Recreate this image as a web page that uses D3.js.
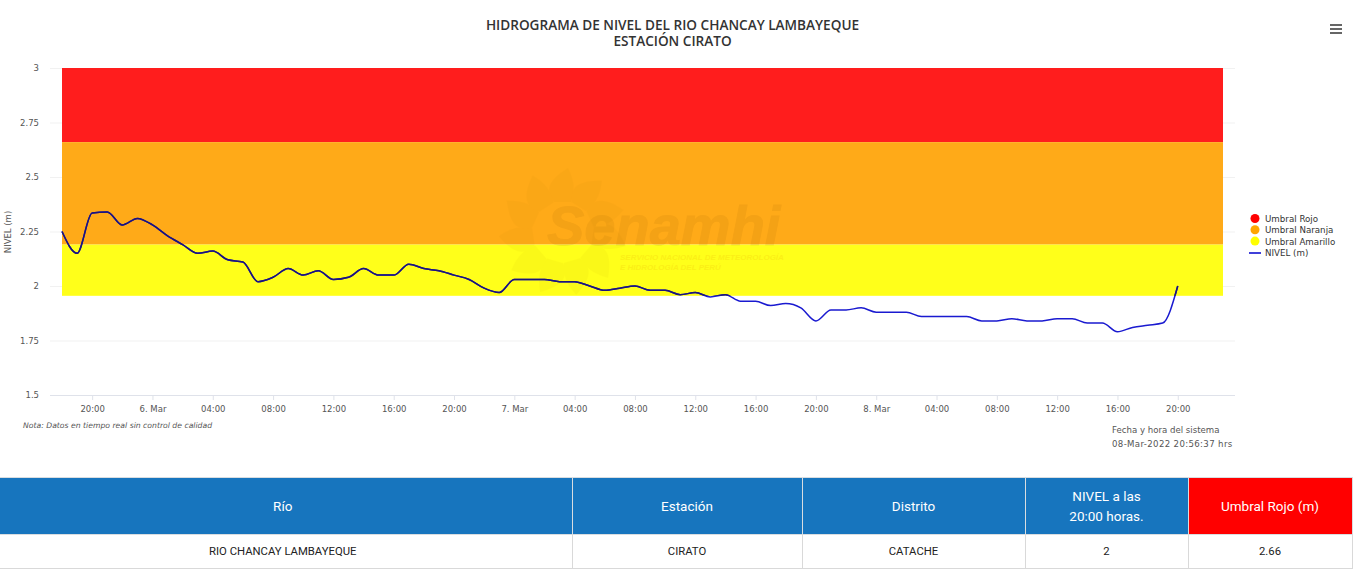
<!DOCTYPE html>
<html>
<head>
<meta charset="utf-8">
<script src="https://cdn.jsdelivr.net/npm/d3@7"></script>
<style>
    html, body { margin: 0; padding: 0; background: #fff; overflow: hidden; }
    #d3Chart { position: absolute; left: 0; top: 0; }
    #d3Table { position: absolute; left: 0; top: 477px; width: 1352px; }
    table { border-collapse: collapse; table-layout: fixed; width: 1352px; font-family: Roboto, sans-serif; }
    th { height: 56px; padding: 0; font-size: 13.5px; font-weight: 400; color: #fff; background: #1775be; border: 1px solid #d9dde0; line-height: 20px; }
    th:first-child, td:first-child { border-left: none; padding-right: 6px; }
    th.rojo { background: #ff0000; }
    td { height: 33px; padding: 0; font-size: 11.3px; text-align: center; color: #222; border: 1px solid #d9d9d9; }
    .tick text { font-family: "DejaVu Sans", sans-serif; font-size: 8.5px; fill: #555; }
</style>
</head>
<body>
<svg id="d3Chart" width="1362" height="477"></svg>
<div id="d3Table"></div>
<script>
// Hourly level readings, from 5 Mar 18:00 to 8 Mar 20:00
const nivel = [
    2.25, 2.15, 2.335, 2.34, 2.28, 2.31,
    2.28, 2.23, 2.19, 2.15, 2.16, 2.12, 2.11, 2.02, 2.04, 2.08, 2.05, 2.07,
    2.03, 2.04, 2.08, 2.05, 2.05, 2.10, 2.08, 2.07, 2.05, 2.03, 1.99, 1.97,
    2.03, 2.03, 2.03, 2.02, 2.02, 2.00, 1.98, 1.99, 2.00, 1.98, 1.98, 1.96,
    1.97, 1.95, 1.96, 1.93, 1.93, 1.91, 1.92, 1.90, 1.84, 1.89, 1.89, 1.90,
    1.88, 1.88, 1.88, 1.86, 1.86, 1.86, 1.86, 1.84, 1.84, 1.85, 1.84, 1.84,
    1.85, 1.85, 1.83, 1.83, 1.79, 1.81, 1.82, 1.83, 2.00
]
const yTicks = [1.5, 1.75, 2, 2.25, 2.5, 2.75, 3]
const bandNames = ["Umbral Rojo", "Umbral Naranja", "Umbral Amarillo"]
const bandTops = [3, 2.66, 2.19]
const bandBottoms = [2.66, 2.19, 1.955]
const bandColors = ["#ff1d1d", "#ffaa18", "#ffff1a"]
const legendColors = ["#ff0000", "#ffa500", "#ffff00"]
const tableHead = ["Río", "Estación", "Distrito", "NIVEL a las<br>20:00 horas.", "Umbral Rojo (m)"]
const tableRow = ["RIO CHANCAY LAMBAYEQUE", "CIRATO", "CATACHE", "2", "2.66"]
const columnWidths = [572, 230, 223, 163, 164]

const start = Date.UTC(2022, 2, 5, 18)
const end = Date.UTC(2022, 2, 8, 23)
const time = i => new Date(start + i * 3600e3)
const months = ["Ene", "Feb", "Mar"]

const svg = d3.select("#d3Chart")
const x = d3.scaleUtc().domain([start, end]).range([62, 1223])
const y = d3.scaleLinear().domain([1.5, 3]).range([395, 68])

// Grid lines and y labels
const yAxis = svg.append("g")
    .attr("transform", "translate(1235,0)")
    .call(d3.axisLeft(y).tickValues(yTicks).tickSize(1185).tickPadding(11).tickFormat(d3.format("~g")))
yAxis.select(".domain").remove()
yAxis.selectAll("line").attr("stroke", d => d === 1.5 ? "#dfe2ea" : "#f1f1f1")

// Threshold bands
svg.append("g")
    .selectAll("rect")
    .data(bandNames)
    .enter()
    .append("rect")
    .attr("x", x(start))
    .attr("width", x(end) - x(start))
    .attr("y", (d, i) => y(bandTops[i]))
    .attr("height", (d, i) => y(bandBottoms[i]) - y(bandTops[i]))
    .attr("fill", (d, i) => bandColors[i])

// Watermark: faint sun, then the name a bit stronger on top
const sun = svg.append("g").attr("fill", "#a86a00").attr("opacity", 0.045)
d3.range(11).forEach(i => {
    sun.append("path")
        .attr("d", "M-9,-30 C-20,-44 -11,-54 5,-64 C12,-50 12,-40 8,-30 Z")
        .attr("transform", `translate(563,232) rotate(${i * 360 / 11})`)
})

const mark = svg.append("g")
    .attr("font-family", "Liberation Sans")
    .attr("font-weight", "bold")
    .attr("font-style", "italic")
mark.append("text")
    .attr("x", 547).attr("y", 245)
    .attr("font-size", 56)
    .attr("fill", "#a86a00").attr("stroke", "#a86a00").attr("stroke-width", 0.8)
    .attr("opacity", 0.12)
    .text("Senamhi")
mark.selectAll("text.sub")
    .data(["SERVICIO NACIONAL DE METEOROLOGÍA", "E HIDROLOGÍA DEL PERÚ"])
    .enter()
    .append("text")
    .attr("class", "sub")
    .attr("x", 620)
    .attr("y", (d, i) => 260 + i * 10)
    .attr("font-size", 8)
    .attr("fill", "#e8a000")
    .attr("opacity", 0.16)
    .text(d => d)

// X axis
const xTicks = d3.utcHour.every(4).range(new Date(start), new Date(end))
const xAxis = svg.append("g")
    .attr("transform", "translate(0,395)")
    .call(d3.axisBottom(x)
        .tickValues(xTicks)
        .tickSize(5)
        .tickPadding(6)
        .tickFormat(d => d.getUTCHours() === 0
            ? d.getUTCDate() + ". " + months[d.getUTCMonth()]
            : d3.utcFormat("%H:%M")(d)))
xAxis.select(".domain").remove()
xAxis.selectAll("line").attr("stroke", "#dfe2ea")

// Level line: dark inside the bands, plain blue below them
const line = d3.line()
    .x((d, i) => x(time(i)))
    .y(d => y(d))
    .curve(d3.curveMonotoneX)
svg.append("clipPath").attr("id", "inBands")
    .append("rect")
    .attr("x", 0).attr("y", y(3))
    .attr("width", 1362).attr("height", y(1.955) - y(3))
svg.append("path")
    .attr("d", line(nivel))
    .attr("fill", "none")
    .attr("stroke", "#1a1ad0")
    .attr("stroke-width", 1.5)
svg.append("path")
    .attr("d", line(nivel))
    .attr("clip-path", "url(#inBands)")
    .attr("fill", "none")
    .attr("stroke", "#1c1478")
    .attr("stroke-width", 1.5)

// Texts
const title = svg.append("g")
    .attr("text-anchor", "middle")
    .attr("font-family", "Open Sans")
    .attr("font-weight", 600)
    .attr("font-size", 13.6)
    .attr("fill", "#333")
title.append("text").attr("x", 672.5).attr("y", 30).text("HIDROGRAMA DE NIVEL DEL RIO CHANCAY LAMBAYEQUE")
title.append("text").attr("x", 672.5).attr("y", 46).text("ESTACIÓN CIRATO")

svg.append("text")
    .attr("transform", "translate(11,232) rotate(-90)")
    .attr("text-anchor", "middle")
    .attr("font-family", "DejaVu Sans")
    .attr("font-size", 8.5)
    .attr("fill", "#555")
    .text("NIVEL (m)")

svg.append("text")
    .attr("x", 23).attr("y", 428)
    .attr("font-family", "DejaVu Sans")
    .attr("font-style", "italic")
    .attr("font-size", 7.7)
    .attr("fill", "#555")
    .text("Nota: Datos en tiempo real sin control de calidad")

const sistema = svg.append("g")
    .attr("font-family", "DejaVu Sans")
    .attr("font-size", 8.6)
    .attr("fill", "#555")
sistema.append("text").attr("x", 1112).attr("y", 433).text("Fecha y hora del sistema")
sistema.append("text").attr("x", 1112).attr("y", 447).attr("letter-spacing", 0.35).text("08-Mar-2022 20:56:37 hrs")

// Legend
const legend = svg.append("g")
    .attr("font-family", "DejaVu Sans")
    .attr("font-size", 8.7)
    .attr("fill", "#333")
bandNames.forEach((name, i) => {
    legend.append("circle").attr("cx", 1255).attr("cy", 218.5 + i * 11.3).attr("r", 4.5).attr("fill", legendColors[i])
    legend.append("text").attr("x", 1265).attr("y", 222 + i * 11.3).text(name)
})
legend.append("line").attr("x1", 1249).attr("x2", 1261).attr("y1", 253).attr("y2", 253).attr("stroke", "#0000cc").attr("stroke-width", 1.5)
legend.append("text").attr("x", 1265).attr("y", 256).text("NIVEL (m)")

// Menu icon
svg.append("g")
    .selectAll("rect")
    .data(["top", "middle", "bottom"])
    .enter()
    .append("rect")
    .attr("x", 1330)
    .attr("y", (d, i) => 24 + i * 4)
    .attr("width", 12)
    .attr("height", 2)
    .attr("fill", "#666")

// Table
const table = d3.select("#d3Table").append("table")
table.append("colgroup")
    .selectAll("col")
    .data(columnWidths)
    .enter()
    .append("col")
    .style("width", d => d + "px")
table.append("thead").append("tr")
    .selectAll("th")
    .data(tableHead)
    .enter()
    .append("th")
    .attr("class", (d, i) => i === 4 ? "rojo" : "")
    .html(d => d)
table.append("tbody").append("tr")
    .selectAll("td")
    .data(tableRow)
    .enter()
    .append("td")
    .text(d => d)
</script>
</body>
</html>
